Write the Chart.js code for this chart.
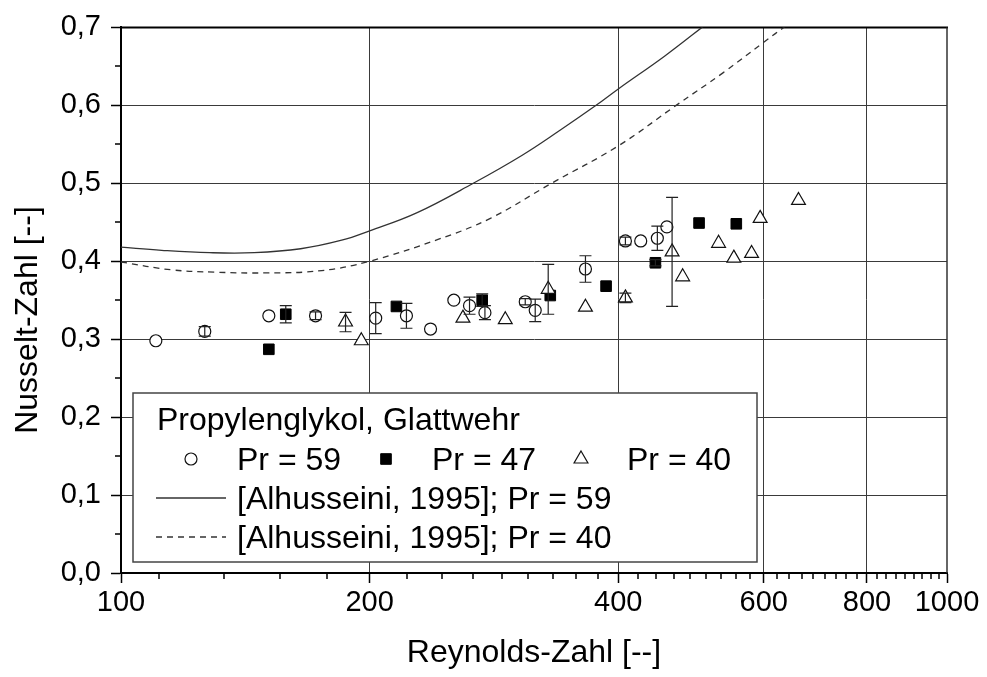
<!DOCTYPE html>
<html>
<head>
<meta charset="utf-8">
<script src="https://cdn.jsdelivr.net/npm/chart.js@4.4.1/dist/chart.umd.min.js"></script>
<style>
  html, body { margin: 0; padding: 0; background: #fff; }
  #wrap { width: 987px; height: 677px; }
</style>
</head>
<body>
<div id="wrap"><canvas id="c" width="987" height="677"></canvas></div>
<script>
// Axis ticks
const reTickValues = [100, 200, 400, 600, 800, 1000];
const reMinorTicks = [111.1, 133.3, 155.6, 177.8, 222.2, 244.4, 266.7, 288.9, 311.1, 333.3, 355.6, 377.8,
  422.2, 444.4, 466.7, 488.9, 511.1, 533.3, 555.6, 577.8, 622.2, 644.4, 666.7, 688.9, 711.1, 733.3, 755.6, 777.8,
  822.2, 844.4, 866.7, 888.9, 911.1, 933.3, 955.6, 977.8];
const nuTickValues = [0, 0.1, 0.2, 0.3, 0.4, 0.5, 0.6, 0.7];
const nuMinorTicks = [0.05, 0.15, 0.25, 0.35, 0.45, 0.55, 0.65];

// Measurements, Pr = 59
const re59  = [110.2, 126.3, 151, 172, 203.4, 221.6, 237, 252.9, 264.2, 275.8, 308.6, 317.3, 365, 408, 425.8, 446, 458];
const nu59  = [0.298, 0.310, 0.330, 0.330, 0.327, 0.330, 0.313, 0.350, 0.343, 0.334, 0.348, 0.337, 0.390, 0.426, 0.426, 0.4295, 0.444];
const err59 = [0, 0.006, 0, 0.005, 0.020, 0.016, 0, 0, 0.011, 0.009, 0.004, 0.0145, 0.017, 0.005, 0, 0.0155, 0];

// Measurements, Pr = 47
const re47  = [151, 158.3, 215.5, 273.7, 330.9, 386.6, 443.6, 501, 555.8];
const nu47  = [0.287, 0.332, 0.342, 0.350, 0.356, 0.368, 0.398, 0.449, 0.448];
const err47 = [0, 0.011, 0, 0.008, 0, 0, 0.004, 0, 0];

// Measurements, Pr = 40
const re40  = [187, 195.4, 259.4, 291.9, 329, 365, 408, 464.7, 478.6, 529, 552, 580, 594, 661];
const nu40  = [0.322, 0.298, 0.327, 0.325, 0.364, 0.341, 0.353, 0.412, 0.380, 0.423, 0.404, 0.410, 0.455, 0.478];
const err40 = [0.0125, 0, 0, 0, 0.032, 0, 0.006, 0.070, 0, 0, 0, 0, 0, 0];

// Correlation [Alhusseini, 1995]
const reAlh59 = [100, 112, 128, 145, 165, 185, 200, 228, 267, 306, 340, 376, 400, 455, 505, 520];
const nuAlh59 = [0.418, 0.414, 0.411, 0.411, 0.416, 0.427, 0.439, 0.462, 0.500, 0.536, 0.568, 0.600, 0.621, 0.663, 0.700, 0.711];
const reAlh40 = [100, 115, 130, 150, 175, 200, 242, 280, 332, 400, 470, 536, 600, 640];
const nuAlh40 = [0.399, 0.389, 0.386, 0.385, 0.388, 0.400, 0.428, 0.455, 0.500, 0.548, 0.600, 0.642, 0.681, 0.703];

const FONT = "'Liberation Sans', Arial, sans-serif";
const toXY = (xs, ys) => xs.map((x, i) => ({ x: x, y: ys[i] }));

const circleStyle = { pointStyle: 'circle', pointRadius: 6, pointBackgroundColor: '#fff', pointBorderColor: '#111', pointBorderWidth: 1.2 };
const squareStyle = { pointStyle: 'rect', pointRadius: 7.5, pointBackgroundColor: '#000', pointBorderColor: '#000', pointBorderWidth: 1 };
const triangleStyle = { pointStyle: 'triangle', pointRadius: 8, pointBackgroundColor: '#fff', pointBorderColor: '#111', pointBorderWidth: 1.2 };

const errorSeries = [
  { re: re59, nu: nu59, err: err59 },
  { re: re47, nu: nu47, err: err47 },
  { re: re40, nu: nu40, err: err40 }
];

// Border on top and right, plus the short minor ticks
const framePlugin = {
  id: 'frame',
  beforeDatasetsDraw(chart) {
    const { ctx, chartArea: a, scales: { x, y } } = chart;
    ctx.save();
    ctx.strokeStyle = '#000';
    ctx.lineWidth = 2;
    ctx.beginPath();
    ctx.moveTo(a.left - 1, a.top);
    ctx.lineTo(a.right + 1, a.top);
    ctx.stroke();
    ctx.strokeStyle = '#333';
    ctx.lineWidth = 1.5;
    ctx.beginPath();
    ctx.moveTo(a.right, a.top);
    ctx.lineTo(a.right, a.bottom);
    ctx.stroke();
    ctx.strokeStyle = '#000';
    ctx.lineWidth = 1.5;
    ctx.beginPath();
    for (const v of reMinorTicks) {
      const px = Math.round(x.getPixelForValue(v));
      ctx.moveTo(px, a.bottom);
      ctx.lineTo(px, a.bottom + 6);
    }
    for (const v of nuMinorTicks) {
      const py = Math.round(y.getPixelForValue(v));
      ctx.moveTo(a.left - 6, py);
      ctx.lineTo(a.left, py);
    }
    ctx.stroke();
    ctx.restore();
  }
};

// Vertical error bars with caps
const errorBarPlugin = {
  id: 'errorBars',
  afterDatasetsDraw(chart) {
    const { ctx, scales: { x, y } } = chart;
    ctx.save();
    ctx.strokeStyle = '#222';
    ctx.lineWidth = 1.2;
    for (const s of errorSeries) {
      s.err.forEach((e, i) => {
        if (!e) return;
        const px = x.getPixelForValue(s.re[i]);
        const top = y.getPixelForValue(s.nu[i] + e);
        const bot = y.getPixelForValue(s.nu[i] - e);
        ctx.beginPath();
        ctx.moveTo(px, top); ctx.lineTo(px, bot);
        ctx.moveTo(px - 6, top); ctx.lineTo(px + 6, top);
        ctx.moveTo(px - 6, bot); ctx.lineTo(px + 6, bot);
        ctx.stroke();
      });
    }
    ctx.restore();
  }
};

// Legend box inside the plot, y-axis title
const legendPlugin = {
  id: 'boxLegend',
  afterDraw(chart) {
    const ctx = chart.ctx;
    const ds = chart.data.datasets;
    ctx.save();
    const L = 133, T = 393, R = 757, B = 562;
    ctx.fillStyle = '#fff';
    ctx.fillRect(L, T, R - L, B - T);
    ctx.strokeStyle = '#444';
    ctx.lineWidth = 1.5;
    ctx.strokeRect(L, T, R - L, B - T);

    ctx.fillStyle = '#000';
    ctx.font = '32px ' + FONT;
    ctx.textAlign = 'left';
    ctx.textBaseline = 'alphabetic';
    ctx.fillText('Propylenglykol, Glattwehr', 157, 430);

    const markerRow = [
      { d: ds[2], mx: 191, tx: 237 },
      { d: ds[3], mx: 386, tx: 432 },
      { d: ds[4], mx: 581, tx: 627 }
    ];
    for (const m of markerRow) {
      ctx.fillStyle = m.d.pointBackgroundColor;
      ctx.strokeStyle = m.d.pointBorderColor;
      ctx.lineWidth = m.d.pointBorderWidth;
      Chart.helpers.drawPoint(ctx, { pointStyle: m.d.pointStyle, radius: m.d.pointRadius, rotation: 0, borderWidth: m.d.pointBorderWidth }, m.mx, 459);
      ctx.fillStyle = '#000';
      ctx.fillText(m.d.label, m.tx, 470);
    }

    const lineRows = [{ d: ds[0], y: 498, ty: 509 }, { d: ds[1], y: 537, ty: 548 }];
    for (const r of lineRows) {
      ctx.strokeStyle = r.d.borderColor;
      ctx.lineWidth = r.d.borderWidth;
      ctx.setLineDash(r.d.borderDash || []);
      ctx.beginPath();
      ctx.moveTo(156, r.y);
      ctx.lineTo(226, r.y);
      ctx.stroke();
      ctx.setLineDash([]);
      ctx.fillStyle = '#000';
      ctx.fillText(r.d.label, 237, r.ty);
    }

    ctx.translate(37, 320);
    ctx.rotate(-Math.PI / 2);
    ctx.textAlign = 'center';
    ctx.fillText('Nusselt-Zahl [--]', 0, 0);
    ctx.restore();
  }
};

new Chart(document.getElementById('c'), {
  type: 'scatter',
  data: {
    datasets: [
      { label: '[Alhusseini, 1995]; Pr = 59', data: toXY(reAlh59, nuAlh59), showLine: true, pointRadius: 0,
        borderColor: '#333', borderWidth: 1.3, tension: 0.4, order: 10 },
      { label: '[Alhusseini, 1995]; Pr = 40', data: toXY(reAlh40, nuAlh40), showLine: true, pointRadius: 0,
        borderColor: '#333', borderWidth: 1.3, borderDash: [6, 5], tension: 0.4, order: 9 },
      Object.assign({ label: 'Pr = 59', data: toXY(re59, nu59), order: 3 }, circleStyle),
      Object.assign({ label: 'Pr = 47', data: toXY(re47, nu47), order: 2 }, squareStyle),
      Object.assign({ label: 'Pr = 40', data: toXY(re40, nu40), order: 1 }, triangleStyle)
    ]
  },
  options: {
    responsive: false,
    animation: false,
    devicePixelRatio: 1,
    layout: { padding: { top: 25, right: 40, left: 0, bottom: 0 } },
    plugins: { legend: { display: false }, tooltip: { enabled: false } },
    scales: {
      x: {
        type: 'logarithmic',
        min: 100, max: 1000,
        afterBuildTicks: (s) => { s.ticks = reTickValues.map(v => ({ value: v })); },
        afterFit: (s) => { s.height = 104; },
        ticks: {
          autoSkip: false, maxRotation: 0, color: '#000', padding: 3,
          font: { family: FONT, size: 29 },
          callback: (v) => String(v)
        },
        grid: {
          color: (c) => (c.tick && (c.tick.value === 100 || c.tick.value === 1000)) ? 'rgba(0,0,0,0)' : '#3a3a3a',
          lineWidth: 1, tickLength: 10, tickColor: '#000', tickWidth: 1.5
        },
        border: { display: true, color: '#000', width: 2 },
        title: { display: true, text: 'Reynolds-Zahl [--]', color: '#000', font: { family: FONT, size: 32 }, padding: { top: 0, bottom: 5 } }
      },
      y: {
        type: 'linear',
        min: 0, max: 0.7,
        afterBuildTicks: (s) => { s.ticks = nuTickValues.map(v => ({ value: v })); },
        afterFit: (s) => { s.width = 121; },
        ticks: {
          color: '#000', padding: 10,
          font: { family: FONT, size: 29 },
          callback: (v) => Number(v).toFixed(1).replace('.', ',')
        },
        grid: {
          color: (c) => (c.tick && (c.tick.value === 0 || c.tick.value === 0.7)) ? 'rgba(0,0,0,0)' : '#3a3a3a',
          lineWidth: 1, tickLength: 10, tickColor: '#000', tickWidth: 1.5
        },
        border: { display: true, color: '#000', width: 2 }
      }
    }
  },
  plugins: [framePlugin, errorBarPlugin, legendPlugin]
});
</script>
</body>
</html>
